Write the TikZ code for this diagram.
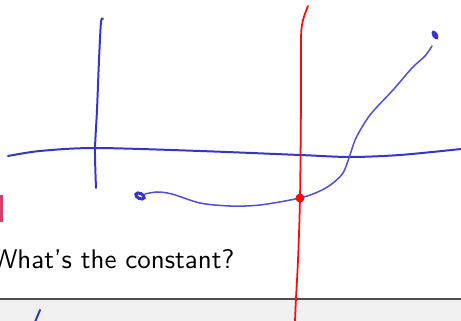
\documentclass[tikz,border=0pt]{standalone}
\usepackage{tikz}
\usetikzlibrary{positioning}
\definecolor{InkBlue}{HTML}{3535C8}
\definecolor{InkLight}{HTML}{5050D8}
\definecolor{InkRed}{HTML}{FF0A0A}
\definecolor{BarPink}{HTML}{D33F6A}
\definecolor{BandGray}{HTML}{F0F0F0}
\definecolor{RuleGray}{HTML}{4E4E4E}

\begin{document}
\begin{tikzpicture}[
  x=0.03cm, y=-0.03cm,
  ink/.style={draw=InkBlue, line width=1.7pt, line cap=round, line join=round},
  thinink/.style={draw=InkLight, line width=1.3pt, line cap=round, line join=round},
  redink/.style={draw=InkRed, line width=1.5pt, line cap=round},
  question/.style={anchor=base west, inner sep=0pt, font=\sffamily, scale=2.3, transform shape}
]
\useasboundingbox (0,0) rectangle (461,321);
\clip (0,0) rectangle (461,321);
% bottom band
\fill[BandGray] (0,299) rectangle (461,321);
\draw[RuleGray, line width=2.4pt] (0,299) -- (461,299);
\draw[ink] (40,310) -- (35,322);
% side bar
\fill[BarPink] (0,195) rectangle (2.5,222);
% question
\node[question] (q) at (-8.5,268.3) {What's the constant?};
% axes
\draw[ink] plot[smooth] coordinates {(8,156) (40,151) (95,148) (200,151) (300,155) (350,157) (400,155) (461,149)};
\draw[ink] plot[smooth] coordinates {(103,19) (101,22) (99,60) (97,110) (95,150) (96,188)};
% curve
\draw[InkBlue, line width=2.6pt, rotate around={-25:(140,196)}] (140,196) ellipse (4.5 and 2.6);
\draw[thinink] plot[smooth] coordinates {(145,194) (157,192) (172,194) (200,203) (230,206) (260,205) (300,198) (320,191) (333,183) (343,173) (349,158) (356,138) (370,115) (393,90) (412,68) (425,56) (432,46)};
\fill[InkBlue, rotate around={-60:(435,35)}] (435,35) ellipse (5 and 2.8);
% red line
\draw[redink] plot[smooth] coordinates {(308,6) (303,20) (301,38) (301,100) (300,198) (298,260) (296,298) (295,321)};
\coordinate (hit) at (300,198);
\fill[InkRed] (hit) circle (4.5);
\end{tikzpicture}
\end{document}
